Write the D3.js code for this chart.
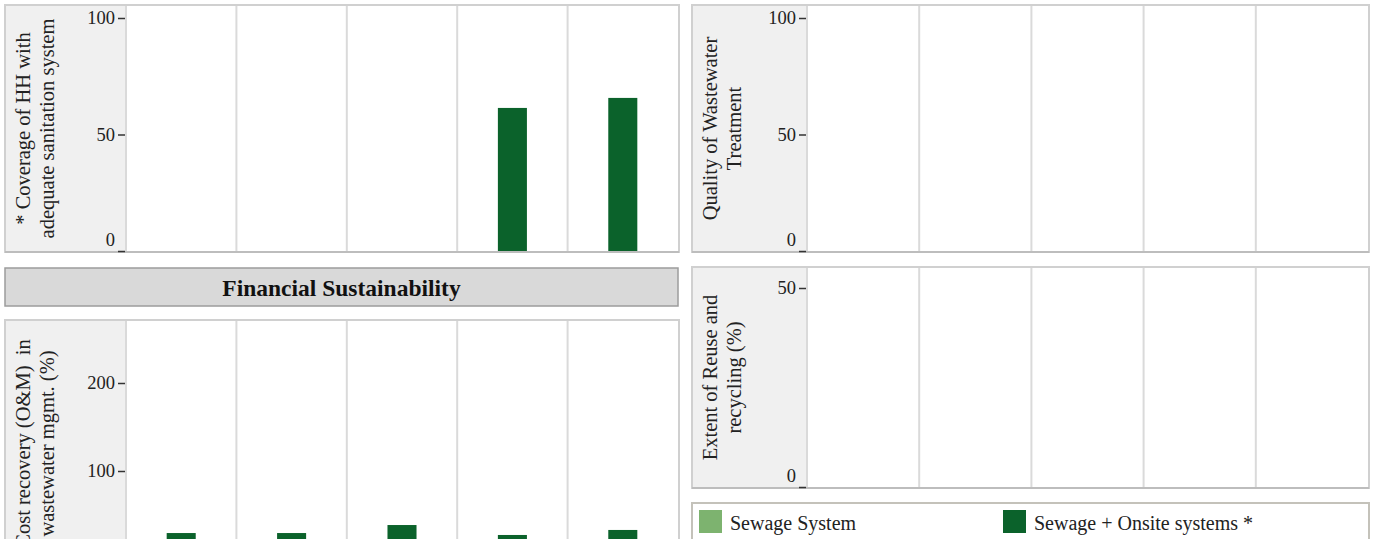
<!DOCTYPE html>
<html>
<head>
<meta charset="utf-8">
<script src="https://cdn.jsdelivr.net/npm/d3@7/dist/d3.min.js"></script>
<style>
  html, body { margin: 0; padding: 0; background: #ffffff; overflow: hidden; }
  svg { display: block; }
  text { font-family: "Palatino Linotype", "Book Antiqua", Palatino, "Liberation Serif", "DejaVu Serif", serif; }
</style>
</head>
<body>
<svg id="chart" width="1376" height="539"></svg>
<script>
// ---- data ----
const categories = ["P1", "P2", "P3", "P4", "P5"];
const seriesNames = ["Sewage System", "Sewage + Onsite systems *"];
const seriesColors = ["#7db36f", "#0b622b"];

const coverageOnsite = [null, null, null, 61.4, 65.7];
const qualityOnsite = [null, null, null, null, null];
const costRecoveryOnsite = [29.5, 29.5, 38.6, 27.3, 33.0];
const reuseOnsite = [null, null, null, null, null];

const coverageTicks = [0, 50, 100];
const qualityTicks = [0, 50, 100];
const costTicks = [0, 100, 200];
const reuseTicks = [0, 50];

const coverageLabel = ["* Coverage of HH with", "adequate sanitation system"];
const qualityLabel = ["Quality of Wastewater", "Treatment"];
const costLabel = ["Cost recovery (O&M)  in", "wastewater mgmt. (%)"];
const reuseLabel = ["Extent of Reuse and", "recycling (%)"];
const headerTitle = "Financial Sustainability";

// ---- drawing ----
const svg = d3.select("#chart");

function panel(cfg) {
  const g = svg.append("g");
  const { x0, y0, w, h, labelW, yDomain, yRange, ticks, values, label } = cfg;
  const plotX0 = x0 + labelW, plotX1 = x0 + w - 1;

  g.append("rect").attr("x", x0).attr("y", y0).attr("width", labelW).attr("height", h)
    .attr("fill", "#f0f0f0");

  const x = d3.scaleBand().domain(categories).range([plotX0, plotX1]).paddingInner(0).paddingOuter(0);
  const y = d3.scaleLinear().domain(yDomain).range(yRange);

  g.selectAll("line.sep").data(categories).enter().append("line")
    .attr("x1", d => x(d)).attr("x2", d => x(d))
    .attr("y1", y0).attr("y2", y0 + h)
    .attr("stroke", "#dadada").attr("stroke-width", 2);

  const bw = x.bandwidth() * 0.263;
  g.selectAll("rect.bar").data(categories.map((c, i) => ({ c, v: values[i] })).filter(d => d.v != null))
    .enter().append("rect")
    .attr("x", d => x(d.c) + (x.bandwidth() - bw) / 2)
    .attr("width", bw)
    .attr("y", d => y(d.v))
    .attr("height", d => y(0) - y(d.v))
    .attr("fill", seriesColors[1]);

  g.append("rect").attr("x", x0).attr("y", y0).attr("width", w).attr("height", h)
    .attr("fill", "none").attr("stroke", "#d0d0d0").attr("stroke-width", 2);
  g.append("line").attr("x1", x0).attr("x2", x0 + w).attr("y1", y0 + h).attr("y2", y0 + h)
    .attr("stroke", "#bdbdbd").attr("stroke-width", 2);

  const axis = d3.axisLeft(y).tickValues(ticks).tickSize(7).tickPadding(3).tickFormat(d3.format("d"));
  const ag = g.append("g").attr("transform", `translate(${plotX0 - 1},0)`).call(axis);
  ag.select(".domain").remove();
  ag.selectAll(".tick line").attr("stroke", "#333").attr("stroke-width", 1.5);
  ag.selectAll(".tick text").attr("font-size", 18.5).attr("fill", "#222")
    .style("font-family", '"Palatino Linotype", "Book Antiqua", Palatino, "Liberation Serif", serif');
  ag.selectAll(".tick").filter(d => d === 0).select("text").attr("transform", "translate(0,-11)");

  const cy = y0 + h / 2;
  const lg = g.append("g").attr("transform", `translate(${x0},${cy}) rotate(-90)`);
  label.forEach((t, i) => {
    lg.append("text").attr("x", 0).attr("y", 25 + i * 24)
      .attr("text-anchor", "middle").attr("font-size", 20.5).attr("fill", "#222")
      .style("white-space", "pre")
      .text(t);
  });
}

panel({ x0: 5, y0: 5, w: 674, h: 247, labelW: 121, yDomain: [0, 100], yRange: [251, 18],
        ticks: coverageTicks, values: coverageOnsite, label: coverageLabel });
panel({ x0: 692, y0: 5, w: 677, h: 247, labelW: 115, yDomain: [0, 100], yRange: [251, 18],
        ticks: qualityTicks, values: qualityOnsite, label: qualityLabel });
panel({ x0: 5, y0: 320, w: 674, h: 247, labelW: 121, yDomain: [0, 200], yRange: [559, 383],
        ticks: costTicks, values: costRecoveryOnsite, label: costLabel });
panel({ x0: 692, y0: 267, w: 677, h: 221, labelW: 115, yDomain: [0, 50], yRange: [487, 288],
        ticks: reuseTicks, values: reuseOnsite, label: reuseLabel });

// header
svg.append("rect").attr("x", 5).attr("y", 268).attr("width", 673).attr("height", 38)
  .attr("fill", "#d9d9d9").attr("stroke", "#9c9c9c").attr("stroke-width", 1.5);
svg.append("text").attr("x", 341.5).attr("y", 296).attr("text-anchor", "middle")
  .attr("font-size", 23.5).attr("font-weight", "bold").attr("fill", "#111").text(headerTitle);

// legend
svg.append("rect").attr("x", 692).attr("y", 503).attr("width", 677).attr("height", 60)
  .attr("fill", "#fff").attr("stroke", "#c4c2ba").attr("stroke-width", 2);
const legX = [699, 1003];
seriesNames.forEach((n, i) => {
  svg.append("rect").attr("x", legX[i]).attr("y", 510).attr("width", 23).attr("height", 23)
    .attr("fill", seriesColors[i]);
  svg.append("text").attr("x", legX[i] + 31).attr("y", 530).attr("font-size", 20)
    .attr("fill", "#222").text(n);
});
</script>
</body>
</html>
